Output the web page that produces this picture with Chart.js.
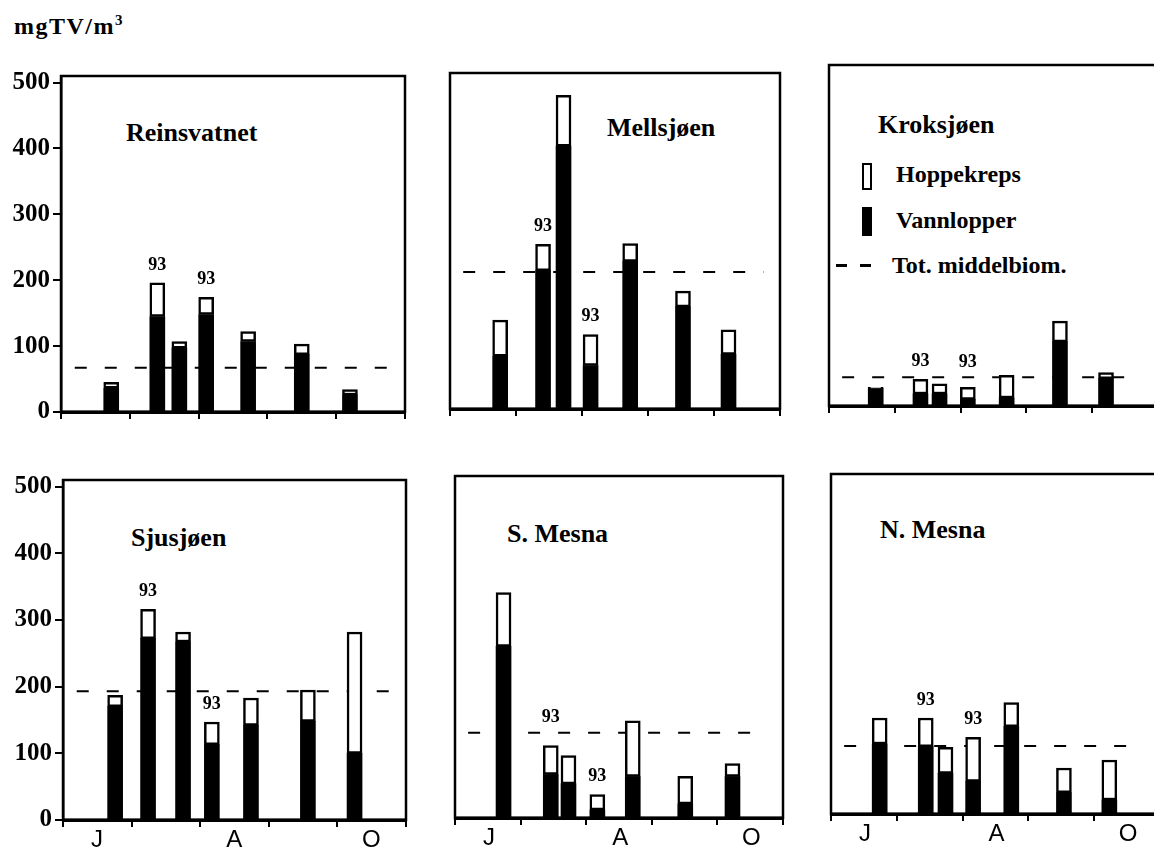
<!DOCTYPE html>
<html>
<head>
<meta charset="utf-8">
<script src="https://cdn.jsdelivr.net/npm/chart.js@4.4.1/dist/chart.umd.min.js"></script>
<style>
  body { margin: 0; width: 1154px; height: 847px; overflow: hidden; background: #fff; position: relative; }
  canvas { position: absolute; }
  .txt { position: absolute; font-family: "Liberation Serif", "DejaVu Serif", serif; font-weight: bold; color: #000; white-space: nowrap; line-height: 1; }
  .tittel { font-size: 26px; }
  .leg { font-size: 24px; }
  .boks { position: absolute; box-sizing: border-box; }
</style>
</head>
<body>

<div class="txt" style="left:14px; top:14px; font-size:24px; letter-spacing:1.5px;">mgTV/m<span style="font-size:15px; position:relative; top:-9px;">3</span></div>

<div class="txt tittel" style="left:126px; top:120px;">Reinsvatnet</div>
<div class="txt tittel" style="left:607px; top:115px;">Mellsjøen</div>
<div class="txt tittel" style="left:878px; top:112px;">Kroksjøen</div>
<div class="txt tittel" style="left:131px; top:525px;">Sjusjøen</div>
<div class="txt tittel" style="left:507px; top:521px;">S. Mesna</div>
<div class="txt tittel" style="left:880px; top:517px;">N. Mesna</div>

<div class="boks" style="left:862px; top:163px; width:10px; height:27px; border:2px solid #000; background:#fff;"></div>
<div class="txt leg" style="left:896px; top:162px;">Hoppekreps</div>
<div class="boks" style="left:862px; top:207px; width:10px; height:29px; background:#000;"></div>
<div class="txt leg" style="left:896px; top:208px;">Vannlopper</div>
<div class="boks" style="left:836px; top:264px; width:11px; height:3px; background:#000;"></div>
<div class="boks" style="left:860px; top:264px; width:11px; height:3px; background:#000;"></div>
<div class="txt leg" style="left:892px; top:253px;">Tot. middelbiom.</div>

<script>
// x = months after 1 June (J, J, A, S, O), y = mgTV/m3
const monthLabels = ["J", "", "A", "", "O"];
const yTicks = [0, 100, 200, 300, 400, 500];
const yearNotes = ["", "93", "", "93", "", "", ""];
const meanFrom = 0.2;
const meanTo = 4.75;

const reinsvatnetX = [0.73, 1.40, 1.72, 2.11, 2.72, 3.50, 4.20];
const reinsvatnetVann = [36, 145, 97, 148, 107, 87, 26];
const reinsvatnetHoppe = [9, 51, 10, 26, 15, 16, 8];
const reinsvatnetMean = 67;

const mellsjoenX = [0.76, 1.41, 1.72, 2.13, 2.73, 3.53, 4.22];
const mellsjoenVann = [80, 210, 399, 66, 224, 155, 83];
const mellsjoenHoppe = [55, 40, 77, 47, 27, 24, 37];
const mellsjoenMean = 208;

const kroksjoenX = [0.71, 1.39, 1.68, 2.11, 2.70, 3.51, 4.21];
const kroksjoenVann = [26, 18, 18, 10, 12, 96, 41];
const kroksjoenHoppe = [2, 22, 15, 18, 34, 31, 9];
const kroksjoenMean = 43;

const sjusjoenX = [0.76, 1.24, 1.75, 2.17, 2.74, 3.57, 4.25];
const sjusjoenVann = [170, 272, 267, 113, 142, 148, 100];
const sjusjoenHoppe = [17, 44, 15, 34, 41, 47, 182];
const sjusjoenMean = 193;

const sMesnaX = [0.74, 1.46, 1.73, 2.17, 2.71, 3.51, 4.23];
const sMesnaVann = [256, 65, 51, 12, 62, 21, 62];
const sMesnaHoppe = [80, 43, 42, 23, 83, 41, 19];
const sMesnaMean = 127;

const nMesnaX = [0.74, 1.44, 1.74, 2.16, 2.74, 3.54, 4.23];
const nMesnaVann = [105, 101, 61, 49, 131, 32, 21];
const nMesnaHoppe = [39, 43, 39, 66, 36, 37, 60];
const nMesnaMean = 102;

const serif = "'Liberation Serif', 'DejaVu Serif', serif";

const framePlugin = {
  id: "frame",
  afterDatasetsDraw(chart) {
    const { ctx, chartArea: a } = chart;
    ctx.save();
    ctx.strokeStyle = "#000";
    ctx.lineWidth = 2.5;
    ctx.strokeRect(a.left, a.top, a.right - a.left, a.bottom - a.top);
    ctx.lineWidth = 3;
    ctx.beginPath();
    ctx.moveTo(a.left, a.bottom);
    ctx.lineTo(a.right, a.bottom);
    ctx.stroke();
    ctx.restore();
  }
};

const notePlugin = {
  id: "notes",
  afterDatasetsDraw(chart) {
    const ctx = chart.ctx;
    const meta = chart.getDatasetMeta(1);
    const meanY = chart.scales.y.getPixelForValue(chart.data.datasets[2].data[0].y);
    ctx.save();
    ctx.fillStyle = "#000";
    ctx.font = "bold 18px " + serif;
    ctx.textAlign = "center";
    ctx.textBaseline = "bottom";
    meta.data.forEach((bar, i) => {
      if (!yearNotes[i]) return;
      let bottom = bar.y - 9;
      if (meanY > bottom - 18 && meanY < bottom + 12) bottom = Math.min(bottom, meanY - 6);
      ctx.fillText(yearNotes[i], bar.x, bottom);
    });
    ctx.restore();
  }
};

function makePanel(frame, xs, vann, hoppe, mean, leftCol, bottomRow) {
  const padT = 16, padR = 6;
  const axL = leftCol ? frame.left : 14;
  const axB = bottomRow ? 34 : 16;

  const canvas = document.createElement("canvas");
  canvas.width = frame.right - frame.left + axL + padR;
  canvas.height = frame.bottom - frame.top + padT + axB;
  canvas.style.left = (frame.left - axL) + "px";
  canvas.style.top = (frame.top - padT) + "px";
  document.body.appendChild(canvas);

  new Chart(canvas, {
    type: "bar",
    data: {
      datasets: [
        {
          label: "Vannlopper",
          data: xs.map((x, i) => ({ x: x, y: vann[i] })),
          backgroundColor: "#000",
          borderWidth: 0,
          barThickness: 15
        },
        {
          label: "Hoppekreps",
          data: xs.map((x, i) => ({ x: x, y: hoppe[i] })),
          backgroundColor: "#fff",
          borderColor: "#000",
          borderWidth: 2.5,
          borderSkipped: false,
          barThickness: 15
        },
        {
          type: "line",
          label: "Tot. middelbiom.",
          stack: "mean",
          data: [{ x: meanFrom, y: mean }, { x: meanTo, y: mean }],
          borderColor: "#000",
          borderWidth: 2,
          borderDash: [12, 18],
          pointRadius: 0,
          fill: false
        }
      ]
    },
    options: {
      responsive: false,
      animation: false,
      layout: { padding: { top: padT, right: padR, left: leftCol ? 0 : axL, bottom: 0 } },
      plugins: { legend: { display: false }, tooltip: { enabled: false } },
      scales: {
        x: {
          type: "linear",
          min: 0,
          max: 5,
          stacked: true,
          offset: false,
          afterFit: s => { s.height = axB; },
          grid: { drawOnChartArea: false, offset: false, tickLength: 7, color: "#000", lineWidth: 2 },
          border: { color: "#000", width: 3 },
          ticks: {
            stepSize: 1,
            autoSkip: false,
            maxRotation: 0,
            labelOffset: 34,
            padding: 1,
            color: "#000",
            font: { family: "'Liberation Sans', Arial, sans-serif", size: 24, lineHeight: 1 },
            callback: v => bottomRow ? (monthLabels[v] || "") : ""
          }
        },
        y: {
          display: leftCol,
          stacked: true,
          min: 0,
          max: 510,
          afterBuildTicks: s => { s.ticks = yTicks.map(v => ({ value: v })); },
          afterFit: s => { s.width = axL; },
          grid: { drawOnChartArea: false, tickLength: 8, color: "#000", lineWidth: 2 },
          border: { color: "#000", width: 2.5 },
          ticks: {
            padding: 3,
            color: "#000",
            font: { family: serif, size: 25, weight: "bold", lineHeight: 1 }
          }
        }
      }
    },
    plugins: [framePlugin, notePlugin]
  });
}

makePanel({ left: 61, top: 76, right: 405, bottom: 412 }, reinsvatnetX, reinsvatnetVann, reinsvatnetHoppe, reinsvatnetMean, true, false);
makePanel({ left: 436, top: 73, right: 780, bottom: 409 }, mellsjoenX, mellsjoenVann, mellsjoenHoppe, mellsjoenMean, false, false);
makePanel({ left: 815, top: 65, right: 1158, bottom: 406 }, kroksjoenX, kroksjoenVann, kroksjoenHoppe, kroksjoenMean, false, false);
makePanel({ left: 63, top: 480, right: 406, bottom: 820 }, sjusjoenX, sjusjoenVann, sjusjoenHoppe, sjusjoenMean, true, true);
makePanel({ left: 441, top: 476, right: 783, bottom: 818 }, sMesnaX, sMesnaVann, sMesnaHoppe, sMesnaMean, false, true);
makePanel({ left: 817, top: 474, right: 1160, bottom: 814 }, nMesnaX, nMesnaVann, nMesnaHoppe, nMesnaMean, false, true);
</script>
</body>
</html>
